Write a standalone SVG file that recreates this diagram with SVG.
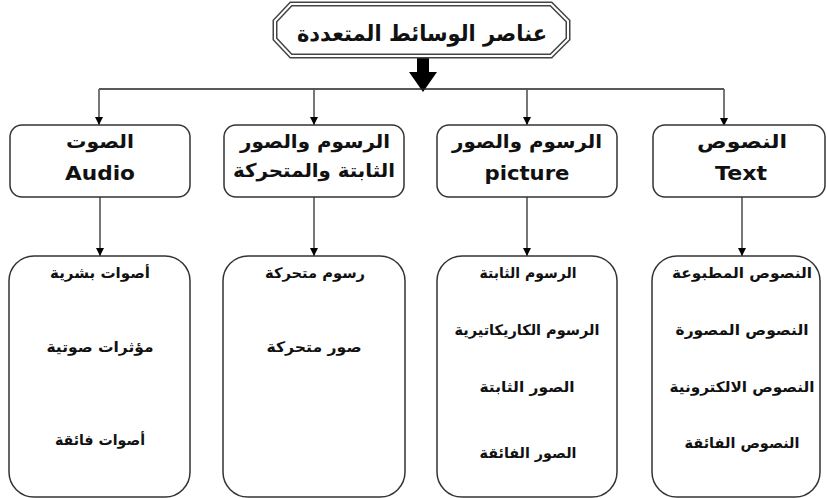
<svg xmlns="http://www.w3.org/2000/svg" width="827" height="498" viewBox="0 0 827 498">
<style>
.box{fill:#fff;stroke:#333;stroke-width:1.5}
.ln{fill:none;stroke:#555;stroke-width:1.6}
text{font-family:"DejaVu Sans","Noto Sans",sans-serif;font-weight:bold;fill:#111;text-anchor:middle}
.hd{font-size:19px}
.en{font-size:20px}
.sm{font-size:14.5px}
.tt{font-size:22px}
</style>
<defs>
<marker id="ah" markerWidth="10" markerHeight="10" refX="9" refY="5" orient="auto" markerUnits="userSpaceOnUse">
<path d="M1,1 L9,5 L1,9 Z" fill="#000"/>
</marker>
</defs>
<rect width="827" height="498" fill="#fff"/>

<g id="connectors">
<polygon points="417,56 429,56 429,72 437,72 423,92 409,72 417,72" fill="#000"/>
<line x1="99" y1="89" x2="724" y2="89" stroke="#222" stroke-width="1.6"/>
<line class="ln" x1="99" y1="89" x2="99" y2="125" marker-end="url(#ah)"/>
<line class="ln" x1="314" y1="89" x2="314" y2="125" marker-end="url(#ah)"/>
<line class="ln" x1="527" y1="89" x2="527" y2="125" marker-end="url(#ah)"/>
<line class="ln" x1="724" y1="89" x2="724" y2="126" marker-end="url(#ah)"/>
<line class="ln" x1="100" y1="197" x2="100" y2="256" marker-end="url(#ah)"/>
<line class="ln" x1="314" y1="197" x2="314" y2="256" marker-end="url(#ah)"/>
<line class="ln" x1="527" y1="197" x2="527" y2="256" marker-end="url(#ah)"/>
<line class="ln" x1="742" y1="197" x2="742" y2="256" marker-end="url(#ah)"/>
</g>

<g id="root">
<path d="M291,4 L551,4 L568,21 L568,39 L551,56 L291,56 L275,39 L275,21 Z" fill="#fff" stroke="#444" stroke-width="5"/>
<path d="M291,4 L551,4 L568,21 L568,39 L551,56 L291,56 L275,39 L275,21 Z" fill="none" stroke="#fff" stroke-width="2"/>
<text class="tt" x="422" y="41" textLength="250" lengthAdjust="spacingAndGlyphs">عناصر الوسائط المتعددة</text>
</g>

<g id="n-audio">
<rect class="box" x="10" y="125" width="180" height="72" rx="12"/>
<text class="hd" x="100" y="148" textLength="68" lengthAdjust="spacingAndGlyphs">الصوت</text>
<text class="en" x="100" y="180" textLength="70" lengthAdjust="spacingAndGlyphs">Audio</text>
</g>
<g id="n-anim">
<rect class="box" x="224" y="125" width="180" height="72" rx="12"/>
<text class="hd" x="315" y="148" textLength="150" lengthAdjust="spacingAndGlyphs">الرسوم والصور</text>
<text class="hd" x="314" y="177" textLength="162" lengthAdjust="spacingAndGlyphs">الثابتة والمتحركة</text>
</g>
<g id="n-picture">
<rect class="box" x="437" y="125" width="180" height="72" rx="12"/>
<text class="hd" x="527" y="148" textLength="150" lengthAdjust="spacingAndGlyphs">الرسوم والصور</text>
<text class="en" x="527" y="180" textLength="85" lengthAdjust="spacingAndGlyphs">picture</text>
</g>
<g id="n-text">
<rect class="box" x="653" y="125" width="172" height="72" rx="12"/>
<text class="hd" x="742" y="148" textLength="90" lengthAdjust="spacingAndGlyphs">النصوص</text>
<text class="en" x="741" y="180" textLength="52" lengthAdjust="spacingAndGlyphs">Text</text>
</g>

<g id="l-audio">
<rect class="box" x="9" y="256" width="181" height="241" rx="25"/>
<text class="sm" x="100" y="278" textLength="100" lengthAdjust="spacingAndGlyphs">أصوات بشرية</text>
<text class="sm" x="100" y="352" textLength="107" lengthAdjust="spacingAndGlyphs">مؤثرات صوتية</text>
<text class="sm" x="100" y="445" textLength="90" lengthAdjust="spacingAndGlyphs">أصوات فائقة</text>
</g>
<g id="l-anim">
<rect class="box" x="223" y="256" width="182" height="241" rx="25"/>
<text class="sm" x="315" y="278" textLength="100" lengthAdjust="spacingAndGlyphs">رسوم متحركة</text>
<text class="sm" x="314" y="352" textLength="95" lengthAdjust="spacingAndGlyphs">صور متحركة</text>
</g>
<g id="l-picture">
<rect class="box" x="437" y="256" width="180" height="241" rx="25"/>
<text class="sm" x="528" y="278" textLength="97" lengthAdjust="spacingAndGlyphs">الرسوم الثابتة</text>
<text class="sm" x="527" y="335" textLength="145" lengthAdjust="spacingAndGlyphs">الرسوم الكاريكاتيرية</text>
<text class="sm" x="527" y="392" textLength="95" lengthAdjust="spacingAndGlyphs">الصور الثابتة</text>
<text class="sm" x="528" y="458" textLength="97" lengthAdjust="spacingAndGlyphs">الصور الفائقة</text>
</g>
<g id="l-text">
<rect class="box" x="652" y="256" width="168" height="241" rx="25"/>
<text class="sm" x="742" y="278" textLength="140" lengthAdjust="spacingAndGlyphs">النصوص المطبوعة</text>
<text class="sm" x="742" y="335" textLength="133" lengthAdjust="spacingAndGlyphs">النصوص المصورة</text>
<text class="sm" x="742" y="392" textLength="145" lengthAdjust="spacingAndGlyphs">النصوص الالكترونية</text>
<text class="sm" x="742" y="448" textLength="115" lengthAdjust="spacingAndGlyphs">النصوص الفائقة</text>
</g>
</svg>
